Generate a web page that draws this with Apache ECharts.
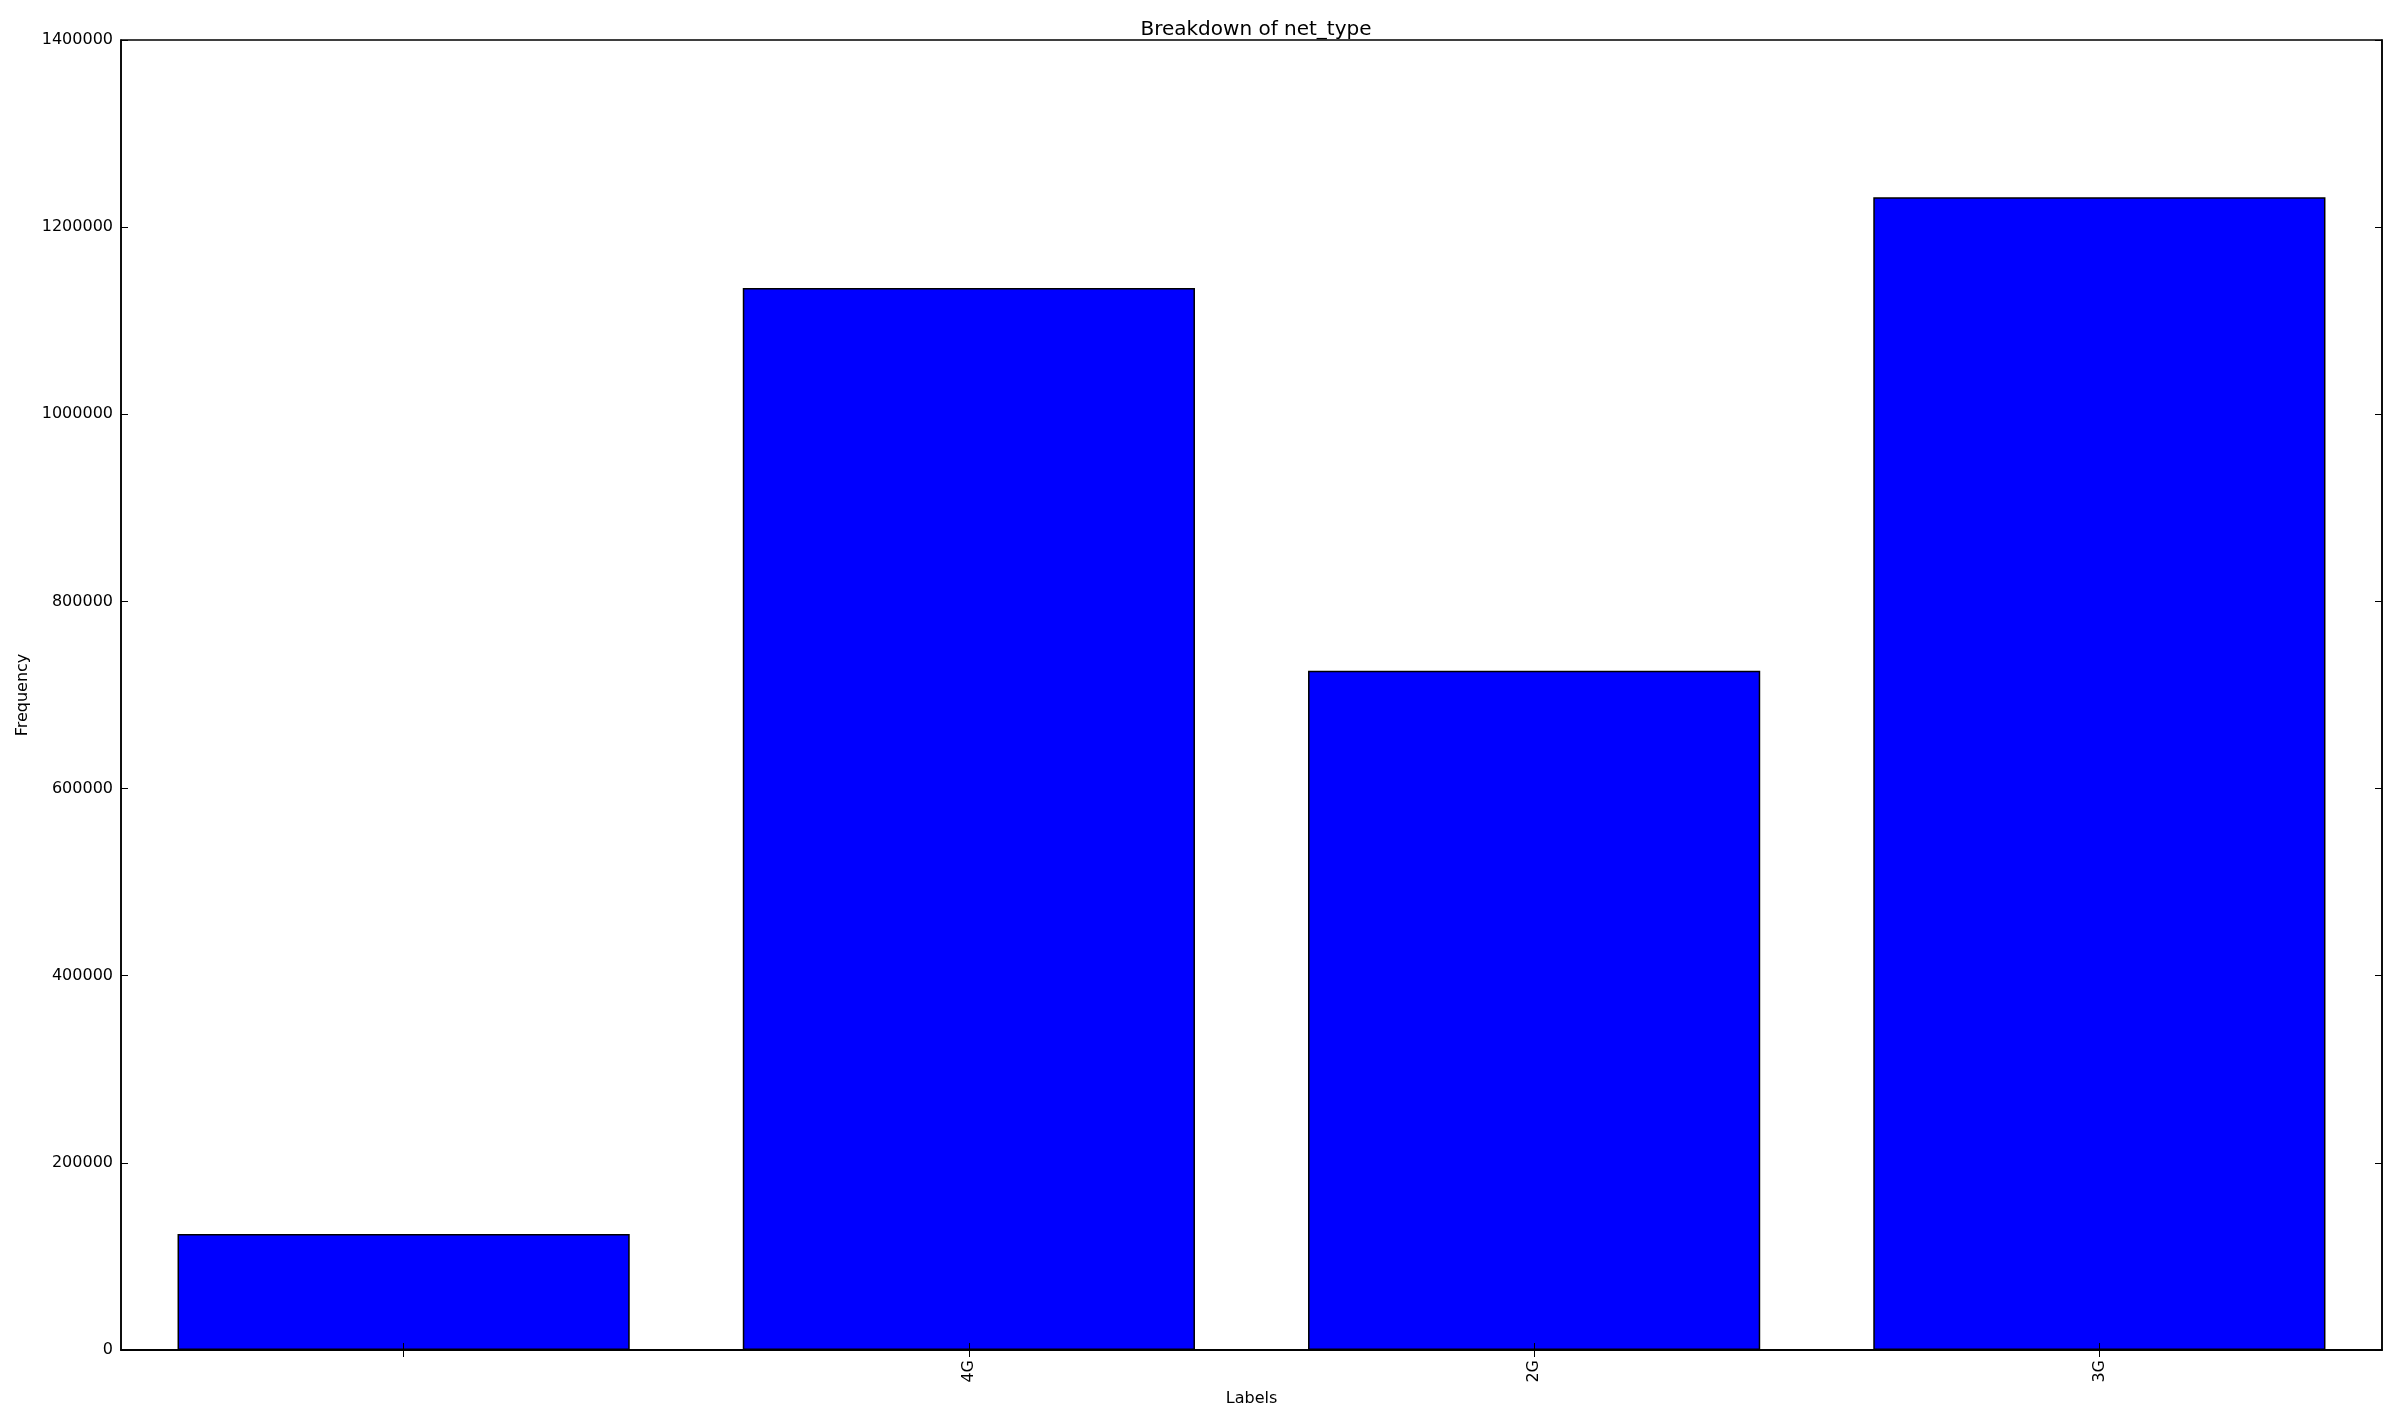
<!DOCTYPE html>
<html>
<head>
<meta charset="utf-8">
<script src="https://cdn.jsdelivr.net/npm/echarts@6/dist/echarts.min.js"></script>
<style>
  html, body { margin: 0; padding: 0; background: #fff; }
  #chart { width: 2400px; height: 1420px; }
</style>
</head>
<body>
<div id="chart"></div>
<script>
// 数据
const categories = ['', '4G', '2G', '3G'];
const frequency = [124000, 1135000, 726000, 1232000];
const yTicks = { min: 0, max: 1400000, interval: 200000 };

const font = 'DejaVu Sans';
const chart = echarts.init(document.getElementById('chart'));

// 内侧刻度（上、右两边也画，不显示标签）
const tickStyle = { show: true, inside: true, length: 7, lineStyle: { color: '#000', width: 1 } };

// 空字符串类别 ECharts 会显示成 '-'，用一个空格代替
const xLabels = categories.map((c) => (c === '' ? ' ' : c));

const option = {
  animation: false,
  backgroundColor: '#fff',
  title: {
    text: 'Breakdown of net_type',
    left: 1251,
    textAlign: 'center',
    top: 15,
    textStyle: { fontFamily: font, fontSize: 20, fontWeight: 'normal', color: '#000' },
  },
  grid: {
    left: 121,
    right: 18,
    top: 40,
    bottom: 70,
    show: true,
    borderColor: '#000',
    borderWidth: 1.5,
    backgroundColor: 'transparent',
  },
  xAxis: [
    {
      type: 'category',
      data: xLabels,
      position: 'bottom',
      z: 10,
      name: 'Labels',
      nameLocation: 'middle',
      nameGap: 36,
      nameTextStyle: { fontFamily: font, fontSize: 16, color: '#000' },
      axisLine: { show: true, lineStyle: { color: '#000', width: 1.5 } },
      axisTick: { show: true, inside: true, length: 7, alignWithLabel: true, interval: 0, lineStyle: { color: '#000', width: 1 } },
      axisLabel: {
        rotate: 90,
        margin: 10,
        interval: 0,
        fontFamily: font,
        fontSize: 16,
        color: '#000',
      },
      splitLine: { show: false },
    },
    {
      type: 'category',
      data: xLabels,
      position: 'top',
      z: 10,
      axisLine: { show: true, lineStyle: { color: '#000', width: 1.5 } },
      axisTick: { show: true, inside: true, length: 7, alignWithLabel: true, interval: 0, lineStyle: { color: '#000', width: 1 } },
      axisLabel: { show: false },
      splitLine: { show: false },
    },
  ],
  yAxis: [
    {
      type: 'value',
      min: yTicks.min,
      max: yTicks.max,
      interval: yTicks.interval,
      position: 'left',
      z: 10,
      name: 'Frequency',
      nameLocation: 'middle',
      nameGap: 88,
      nameRotate: 90,
      nameTextStyle: { fontFamily: font, fontSize: 16, color: '#000' },
      axisLine: { show: true, lineStyle: { color: '#000', width: 1.5 } },
      axisTick: tickStyle,
      axisLabel: {
        margin: 8,
        fontFamily: font,
        fontSize: 16,
        color: '#000',
        formatter: (v) => String(v),
      },
      splitLine: { show: false },
    },
    {
      type: 'value',
      min: yTicks.min,
      max: yTicks.max,
      interval: yTicks.interval,
      position: 'right',
      z: 10,
      axisLine: { show: true, lineStyle: { color: '#000', width: 1.5 } },
      axisTick: tickStyle,
      axisLabel: { show: false },
      splitLine: { show: false },
    },
  ],
  series: [
    {
      type: 'bar',
      xAxisIndex: 0,
      yAxisIndex: 0,
      data: frequency,
      barWidth: '80%',
      itemStyle: { color: '#0000ff', borderColor: '#000', borderWidth: 1.5 },
    },
  ],
};

chart.setOption(option);
</script>
</body>
</html>
